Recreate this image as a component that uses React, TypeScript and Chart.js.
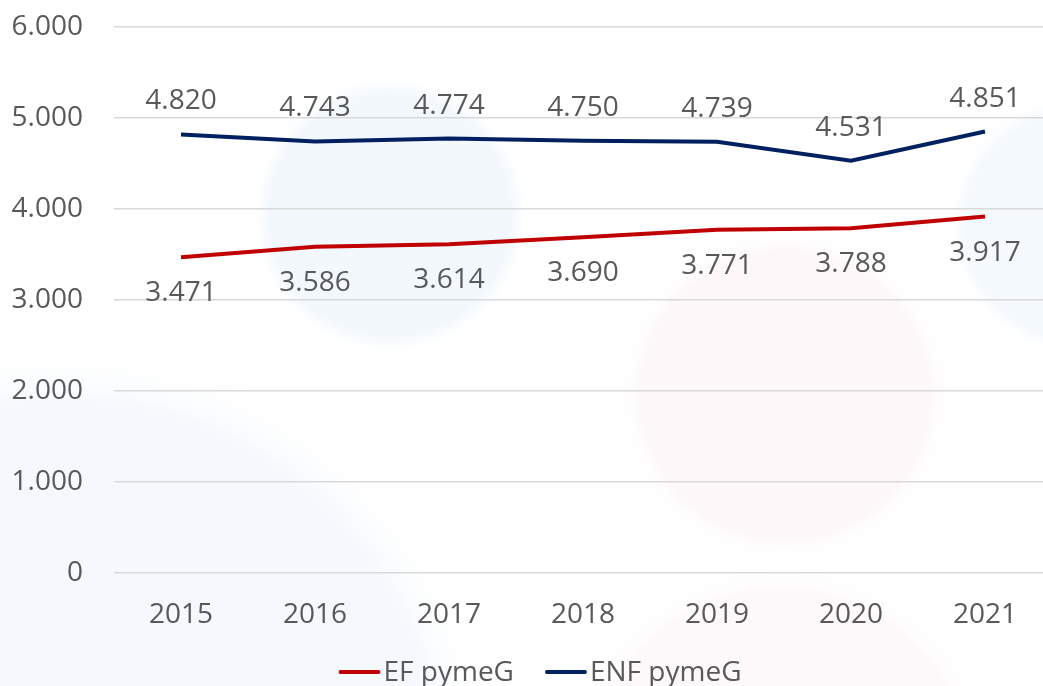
import React, { useEffect, useRef } from "react";
import { Chart, registerables } from "chart.js";

Chart.register(...registerables);

const categories = ["2015", "2016", "2017", "2018", "2019", "2020", "2021"];
const efValues = [3471, 3586, 3614, 3690, 3771, 3788, 3917];
const enfValues = [4820, 4743, 4774, 4750, 4739, 4531, 4851];
const yTicks = [0, 1000, 2000, 3000, 4000, 5000, 6000];

const FONT = "'Open Sans', 'Noto Sans', sans-serif";
const FSIZE = 28;
const TEXT = "#595959";

const fmt = (v: number) => {
  const s = Math.round(v).toString();
  return s.replace(/\B(?=(\d{3})+(?!\d))/g, ".");
};

const backgroundPlugin = {
  id: "bgCircles",
  beforeDraw(chart: any) {
    const ctx = chart.ctx;
    ctx.save();
    ctx.fillStyle = "#ffffff";
    ctx.fillRect(0, 0, chart.width, chart.height);
    const circles = [
      { x: 60, y: 780, r: 440, c: "rgba(225,236,247,0.35)" },
      { x: 390, y: 215, r: 142, c: "rgba(220,236,248,0.38)" },
      { x: 785, y: 395, r: 168, c: "rgba(246,224,228,0.25)" },
      { x: 1080, y: 225, r: 135, c: "rgba(220,236,248,0.3)" },
      { x: 780, y: 780, r: 220, c: "rgba(246,226,230,0.22)" },
    ];
    for (const c of circles) {
      const g = ctx.createRadialGradient(c.x, c.y, 0, c.x, c.y, c.r);
      g.addColorStop(0, c.c);
      g.addColorStop(0.85, c.c);
      g.addColorStop(1, "rgba(255,255,255,0)");
      ctx.fillStyle = g;
      ctx.beginPath();
      ctx.arc(c.x, c.y, c.r, 0, Math.PI * 2);
      ctx.fill();
    }
    ctx.restore();
  },
};

const dataLabelPlugin = {
  id: "dataLabels",
  afterDatasetsDraw(chart: any) {
    const ctx = chart.ctx;
    ctx.save();
    ctx.font = `${FSIZE}px ${FONT}`;
    ctx.fillStyle = TEXT;
    ctx.textAlign = "center";
    ctx.textBaseline = "middle";
    chart.data.datasets.forEach((ds: any, i: number) => {
      const meta = chart.getDatasetMeta(i);
      const off = ds.labelOffset as number;
      meta.data.forEach((pt: any, j: number) => {
        ctx.fillText(fmt(ds.data[j]), pt.x, pt.y + off);
      });
    });
    ctx.restore();
  },
};

const legendPlugin = {
  id: "customLegend",
  afterDraw(chart: any) {
    const ctx = chart.ctx;
    ctx.save();
    ctx.font = `${FSIZE}px ${FONT}`;
    ctx.textBaseline = "middle";
    const boxW = 42;
    const gapText = 3;
    const gapItem = 31;
    const items = chart.data.datasets.map((ds: any) => ({
      label: ds.label,
      color: ds.borderColor,
      w: boxW + gapText + ctx.measureText(ds.label).width,
    }));
    const total = items.reduce((a: number, it: any) => a + it.w, 0) + gapItem * (items.length - 1);
    let x = 540 - total / 2;
    const y = 673;
    for (const it of items) {
      ctx.strokeStyle = it.color;
      ctx.lineWidth = 4;
      ctx.lineCap = "round";
      ctx.beginPath();
      ctx.moveTo(x + 2, y - 1);
      ctx.lineTo(x + boxW - 2, y - 1);
      ctx.stroke();
      ctx.fillStyle = TEXT;
      ctx.textAlign = "left";
      ctx.fillText(it.label, x + boxW + gapText, y);
      x += it.w + gapItem;
    }
    ctx.restore();
  },
};

export default function App() {
  const ref = useRef<HTMLCanvasElement | null>(null);
  useEffect(() => {
    if (!ref.current) return;
    const chart = new Chart(ref.current, {
      type: "line",
      data: {
        labels: categories,
        datasets: [
          {
            label: "EF pymeG",
            data: efValues,
            borderColor: "#C00000",
            backgroundColor: "#C00000",
            borderWidth: 4,
            pointRadius: 0,
            tension: 0,
            labelOffset: 36,
          } as any,
          {
            label: "ENF pymeG",
            data: enfValues,
            borderColor: "#002060",
            backgroundColor: "#002060",
            borderWidth: 4,
            pointRadius: 0,
            tension: 0,
            labelOffset: -33,
          } as any,
        ],
      },
      options: {
        responsive: false,
        animation: false,
        layout: { padding: { top: 27, left: 0, right: 0, bottom: 0 } },
        plugins: {
          legend: { display: false },
          tooltip: { enabled: false },
        },
        scales: {
          x: {
            type: "category",
            offset: true,
            grid: { display: false, drawTicks: false },
            border: { display: false },
            ticks: {
              color: TEXT,
              font: { family: FONT, size: FSIZE },
              padding: 25,
            },
            afterFit: (s: any) => {
              s.height = 113;
            },
          },
          y: {
            min: 0,
            max: 6000,
            afterBuildTicks: (s: any) => {
              s.ticks = yTicks.map((v) => ({ value: v }));
            },
            grid: {
              color: "#d9d9d9",
              lineWidth: 1.5,
              drawTicks: true,
              tickLength: 31,
              tickColor: "rgba(0,0,0,0)",
            },
            border: { display: false },
            ticks: {
              color: TEXT,
              font: { family: FONT, size: FSIZE },
              padding: 0,
              callback: (v: any) => fmt(Number(v)),
            },
            afterFit: (s: any) => {
              s.width = 114;
            },
          },
        },
      },
      plugins: [backgroundPlugin, dataLabelPlugin, legendPlugin],
    });
    return () => chart.destroy();
  }, []);
  return (
    <div style={{ position: "fixed", left: 0, top: 0, width: 1043, height: 686, overflow: "hidden", background: "#fff" }}>
      <canvas ref={ref} width={1052} height={686} style={{ display: "block" }} />
    </div>
  );
}
